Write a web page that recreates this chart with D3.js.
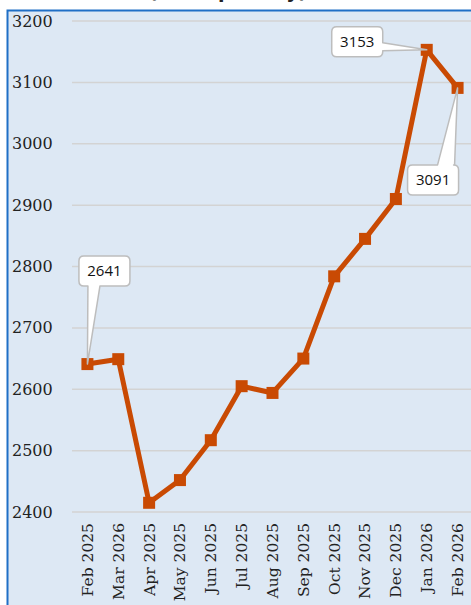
<!DOCTYPE html>
<html><head><meta charset="UTF-8">
<script src="https://cdn.jsdelivr.net/npm/d3@7"></script>
<style>
  body { margin: 0; background: #fff; }
</style>
</head>
<body>
<script>
"use strict";
// Chart values
const months = ["Feb 2025", "Mar 2026", "Apr 2025", "May 2025", "Jun 2025", "Jul 2025",
  "Aug 2025", "Sep 2025", "Oct 2025", "Nov 2025", "Dec 2025", "Jan 2026", "Feb 2026"];
const values = [2641, 2649, 2415, 2452, 2517, 2605, 2594, 2650, 2784, 2845, 2910, 3153, 3091];
const yTicks = [2400, 2500, 2600, 2700, 2800, 2900, 3000, 3100, 3200];
const labelled = [0, 11, 12];
const titleText = "(units per day)";

const width = 471, height = 605;
const plot = {left: 72, right: 473, top: 21, bottom: 512};
const serif = "'DejaVu Serif', 'Liberation Serif', serif";

const svg = d3.select("body").append("svg")
    .attr("width", width)
    .attr("height", height);

// title, mostly cropped above the frame
svg.append("text")
    .attr("x", 228).attr("y", -2)
    .attr("text-anchor", "middle")
    .style("font-family", "'DejaVu Sans', sans-serif")
    .style("font-weight", "bold")
    .style("font-size", "19px")
    .attr("fill", "#222")
    .text(titleText);

// chart area with blue frame
svg.append("rect")
    .attr("x", 7.5).attr("y", 10.5)
    .attr("width", 480).attr("height", 620)
    .attr("fill", "#dde8f4")
    .attr("stroke", "#1f6fc6")
    .attr("stroke-width", 2);

const x = d3.scaleBand().domain(months).range([plot.left, plot.right]);
const y = d3.scaleLinear().domain([2400, 3200]).range([plot.bottom, plot.top]);
const cx = d => x(d) + x.bandwidth() / 2;

// gridlines
svg.append("g").selectAll("line")
    .data(yTicks).enter().append("line")
    .attr("x1", plot.left).attr("x2", width)
    .attr("y1", d => y(d)).attr("y2", d => y(d))
    .attr("stroke", "#d3d3d3")
    .attr("stroke-width", 1.5);

// y labels
svg.append("g").selectAll("text")
    .data(yTicks).enter().append("text")
    .attr("x", 12).attr("y", d => y(d))
    .attr("dy", "0.35em")
    .style("font-family", serif)
    .style("font-size", "16px")
    .attr("fill", "#222")
    .text(d => d);

// x labels, rotated
svg.append("g").selectAll("text")
    .data(months).enter().append("text")
    .attr("transform", d => "translate(" + cx(d) + "," + (plot.bottom + 11) + ") rotate(-90)")
    .attr("text-anchor", "end")
    .attr("dy", "0.35em")
    .style("font-family", serif)
    .style("font-size", "15.5px")
    .attr("fill", "#222")
    .text(d => d);

// the line
const color = "#c94a03";
const line = d3.line()
    .x((d, i) => cx(months[i]))
    .y(d => y(d));

svg.append("path")
    .datum(values)
    .attr("d", line)
    .attr("fill", "none")
    .attr("stroke", color)
    .attr("stroke-width", 5)
    .attr("stroke-linejoin", "round");

svg.append("g").selectAll("rect")
    .data(values).enter().append("rect")
    .attr("x", (d, i) => cx(months[i]) - 6)
    .attr("y", d => y(d) - 6)
    .attr("width", 12).attr("height", 12)
    .attr("fill", color);

// callouts: box offset from point, which side the pointer leaves, and where on it
const calloutLayout = {
  0:  {dx: -8.5, dy: -108, side: "bottom", a: 9, b: 21},
  11: {dx: -95, dy: -23, side: "right", a: 16, b: 24},
  12: {dx: -50, dy: 77, side: "top", a: 30, b: 47}
};
const bw = 51, bh = 30, r = 5;

function calloutPath(bx, by, side, a, b, tx, ty) {
  let p = "M" + (bx + r) + "," + by;
  if (side === "top") p += "L" + (bx + a) + "," + by + "L" + tx + "," + ty + "L" + (bx + b) + "," + by;
  p += "L" + (bx + bw - r) + "," + by + "Q" + (bx + bw) + "," + by + " " + (bx + bw) + "," + (by + r);
  if (side === "right") p += "L" + (bx + bw) + "," + (by + a) + "L" + tx + "," + ty + "L" + (bx + bw) + "," + (by + b);
  p += "L" + (bx + bw) + "," + (by + bh - r) + "Q" + (bx + bw) + "," + (by + bh) + " " + (bx + bw - r) + "," + (by + bh);
  if (side === "bottom") p += "L" + (bx + b) + "," + (by + bh) + "L" + tx + "," + ty + "L" + (bx + a) + "," + (by + bh);
  p += "L" + (bx + r) + "," + (by + bh) + "Q" + bx + "," + (by + bh) + " " + bx + "," + (by + bh - r);
  p += "L" + bx + "," + (by + r) + "Q" + bx + "," + by + " " + (bx + r) + "," + by + "Z";
  return p;
}

labelled.forEach(i => {
  const L = calloutLayout[i];
  const tx = cx(months[i]), ty = y(values[i]);
  const bx = tx + L.dx, by = ty + L.dy;
  svg.append("path")
      .attr("d", calloutPath(bx, by, L.side, L.a, L.b, tx, ty))
      .attr("fill", "#fff")
      .attr("stroke", "#bdbdbd")
      .attr("stroke-width", 1.5)
      .attr("stroke-linejoin", "round");
  svg.append("text")
      .attr("x", bx + bw / 2).attr("y", by + bh / 2)
      .attr("dy", "0.35em")
      .attr("text-anchor", "middle")
      .style("font-family", "'Open Sans', sans-serif")
      .style("font-size", "15px")
      .attr("fill", "#111")
      .text(values[i]);
});
</script>
</body>
</html>
